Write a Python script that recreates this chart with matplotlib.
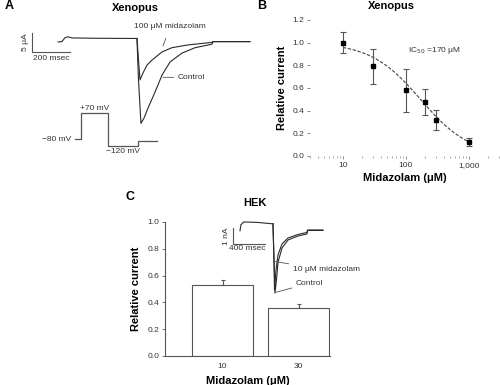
import numpy as np
import matplotlib
matplotlib.use("Agg")
import matplotlib.pyplot as plt

plt.rcParams['font.family'] = ['Liberation Sans', 'DejaVu Sans']

W, H = 500, 385

# ---- panel A: Xenopus traces (time in ms, current in uA)
a_t_pre = [0, 21, 37, 53, 74, 223, 420]
a_i_pre = [-1.0, -0.9, 0.16, 0.4, 0.1, 0.0, -0.05]
a_t_mdz = [420, 428, 436, 452, 473, 500, 553, 606, 691, 819, 824, 1021]
a_i_mdz = [-0.05, -5.9, -11.3, -9.4, -7.3, -5.9, -3.7, -2.55, -1.8, -1.1, -0.9, -0.9]
a_t_ctl = [420, 428, 441, 457, 479, 516, 553, 596, 660, 729, 819, 824, 1021]
a_i_ctl = [-0.3, -11.3, -23.1, -21.7, -18.9, -14.6, -10.0, -6.4, -4.0, -2.55, -1.6, -0.9, -0.9]

# voltage protocol (ms, mV)
v_t = [90, 122, 266, 426, 527]
v_mv = [-80, 70, -120, -90]

# ---- panel B: concentration-response
b_conc = [10, 30, 100, 200, 300, 1000]
b_rel = [1.0, 0.79, 0.58, 0.48, 0.32, 0.12]
b_err = [0.09, 0.155, 0.19, 0.115, 0.09, 0.035]
ic50 = 170
hill = 1.1

# ---- panel C: HEK
c_labels = ['10', '30']
c_rel = [0.53, 0.36]
c_err = [0.035, 0.03]

c_t_pre = [0, 12, 25, 44, 200, 412]
c_i_pre = [-0.55, -0.15, -0.1, 0.02, 0.0, -0.1]
c_t_mdz = [412, 425, 431, 450, 475, 525, 600, 725, 837, 844, 1037]
c_i_mdz = [-0.1, -2.45, -4.4, -3.1, -2.12, -1.41, -1.02, -0.79, -0.66, -0.5, -0.5]
c_t_ctl = [412, 425, 437, 456, 475, 525, 600, 725, 837, 844, 1037]
c_i_ctl = [-0.1, -2.45, -4.6, -3.75, -2.6, -1.67, -1.15, -0.89, -0.76, -0.53, -0.53]


def box(x0, y0, x1, y1):
    return [x0 / W, 1 - y1 / H, (x1 - x0) / W, (y1 - y0) / H]


def ftext(x, y, s, **kw):
    fig.text(x / W, 1 - y / H, s, **kw)


fig = plt.figure(figsize=(5, 3.85), dpi=100)
trace_col = '#2a2a2a'
gray = '#555555'

# ===== Panel A traces
axA = fig.add_axes(box(20, 25, 260, 130))
axA.set_xlim(-202, 1074)
axA.set_ylim(-24.9, 3.61)
axA.axis('off')
axA.plot(a_t_pre, a_i_pre, color=trace_col, lw=0.8)
axA.plot(a_t_mdz, a_i_mdz, color=trace_col, lw=0.8)
axA.plot(a_t_ctl, a_i_ctl, color=trace_col, lw=0.8)
# scale bars
axA.plot([-138, -138, 62], [1.36, -3.64, -3.64], color=gray, lw=0.8)
axA.text(-175, -1.1, '5 μA', rotation=90, ha='center', va='center', fontsize=6, color='#333')
axA.text(-38, -4.6, '200 msec', ha='center', va='top', fontsize=6, color='#333')
axA.annotate('100 μM midazolam', xy=(558, -2.1), xytext=(596, 3.1),
             ha='center', va='center', fontsize=6, color='#333',
             arrowprops=dict(arrowstyle='-', color=gray, lw=0.6, shrinkB=0, shrinkA=4))
axA.annotate('Control', xy=(558, -10.6), xytext=(638, -10.6),
             ha='left', va='center', fontsize=6, color='#333',
             arrowprops=dict(arrowstyle='-', color=gray, lw=0.6, shrinkB=0, shrinkA=1))

axV = fig.add_axes(box(20, 100, 260, 160))
axV.set_xlim(-202, 1074)
axV.set_ylim(-200.6, 144.8)
axV.axis('off')
axV.step(v_t, v_mv + [v_mv[-1]], where='post', color=gray, lw=0.9)
axV.text(194, 77, '+70 mV', ha='center', va='bottom', fontsize=6, color='#333')
axV.text(68, -80, '−80 mV', ha='right', va='center', fontsize=6, color='#333')
axV.text(346, -133, '−120 mV', ha='center', va='top', fontsize=6, color='#333')

# ===== Panel B
axB = fig.add_axes(box(310, 20, 499, 156))
axB.set_xscale('log')
axB.set_xlim(3, 3000)
axB.set_ylim(0, 1.2)
xf = np.logspace(1, 3, 200)
axB.plot(xf, 1 / (1 + (xf / ic50) ** hill), color='#444', lw=0.8, ls=(0, (3, 1.5)))
axB.errorbar(b_conc, b_rel, yerr=b_err, fmt='s', color='black', ms=3.2,
             ecolor='#555', elinewidth=0.8, capsize=2, capthick=0.8)
for s in axB.spines.values():
    s.set_visible(False)
axB.set_yticks(np.arange(0, 1.21, 0.2))
axB.set_yticklabels(['0.0', '0.2', '0.4', '0.6', '0.8', '1.0', '1.2'])
axB.set_xticks([10, 100, 1000])
axB.set_xticklabels(['10', '100', '1,000'])
axB.tick_params(labelsize=6, length=2, width=0.6, color='#777', labelcolor='#333', pad=2)
axB.tick_params(which='minor', length=1.5, width=0.6, color='#999')
axB.set_xlabel('Midazolam (μM)', fontsize=8, fontweight='bold', labelpad=3)
axB.set_ylabel('Relative current', fontsize=8, fontweight='bold', labelpad=4)
axB.text(108, 0.93, 'IC$_{50}$ =170 μM', fontsize=6, ha='left', va='center', color='#333')

# ===== Panel C bars
axC = fig.add_axes(box(165, 222, 330, 356))
xpos = np.arange(len(c_labels))
axC.bar(xpos, c_rel, width=0.8, color='white', edgecolor='#555', lw=0.8)
axC.errorbar(xpos, c_rel, yerr=[[0, 0], c_err], fmt='none', ecolor='#555',
             elinewidth=0.8, capsize=1.5, capthick=0.8)
axC.set_xlim(-0.757, 1.414)
axC.set_ylim(0, 1.0)
axC.set_xticks(xpos)
axC.set_xticklabels(c_labels)
axC.set_yticks(np.arange(0, 1.01, 0.2))
axC.set_yticklabels(['0.0', '0.2', '0.4', '0.6', '0.8', '1.0'])
for s in ['top', 'right']:
    axC.spines[s].set_visible(False)
for s in ['left', 'bottom']:
    axC.spines[s].set_color('#555')
    axC.spines[s].set_linewidth(0.8)
axC.tick_params(axis='y', labelsize=6, length=2, width=0.6, color='#555', labelcolor='#333', pad=2)
axC.tick_params(axis='x', labelsize=6, length=0, labelcolor='#333', pad=5)
axC.set_xlabel('Midazolam (μM)', fontsize=8, fontweight='bold', labelpad=4)
axC.set_ylabel('Relative current', fontsize=8, fontweight='bold', labelpad=5)

# inset traces (ms, nA)
axI = fig.add_axes(box(220, 215, 330, 300))
axI.set_xlim(-250, 1125)
axI.set_ylim(-5.05, 0.474)
axI.axis('off')
axI.plot(c_t_pre, c_i_pre, color=trace_col, lw=0.8)
axI.plot(c_t_mdz, c_i_mdz, color=trace_col, lw=0.8)
axI.plot(c_t_ctl, c_i_ctl, color=trace_col, lw=0.8)
axI.plot([-87.5, -87.5, 312.5], [-0.39, -1.39, -1.39], color=gray, lw=0.8)
axI.text(-170, -0.9, '1 nA', rotation=90, ha='center', va='center', fontsize=6, color='#333')
axI.text(90, -1.5, '400 msec', ha='center', va='top', fontsize=6, color='#333')
axI.annotate('10 μM midazolam', xy=(437, -2.55), xytext=(660, -3.1),
             ha='left', va='center', fontsize=6, color='#333',
             arrowprops=dict(arrowstyle='-', color=gray, lw=0.6, shrinkB=0, shrinkA=1))
axI.annotate('Control', xy=(450, -4.55), xytext=(700, -3.95),
             ha='left', va='center', fontsize=6, color='#333',
             arrowprops=dict(arrowstyle='-', color=gray, lw=0.6, shrinkB=0, shrinkA=1))

# panel letters and titles
ftext(5, 6, 'A', fontsize=9, fontweight='bold', ha='left', va='center')
ftext(257, 6, 'B', fontsize=9, fontweight='bold', ha='left', va='center')
ftext(130, 197, 'C', fontsize=9, fontweight='bold', ha='center', va='center')
ftext(135, 8, 'Xenopus', fontsize=8, fontweight='bold', ha='center', va='center')
ftext(391, 6, 'Xenopus', fontsize=8, fontweight='bold', ha='center', va='center')
ftext(255, 203, 'HEK', fontsize=8, fontweight='bold', ha='center', va='center')

fig.savefig('out.png', dpi=100)
